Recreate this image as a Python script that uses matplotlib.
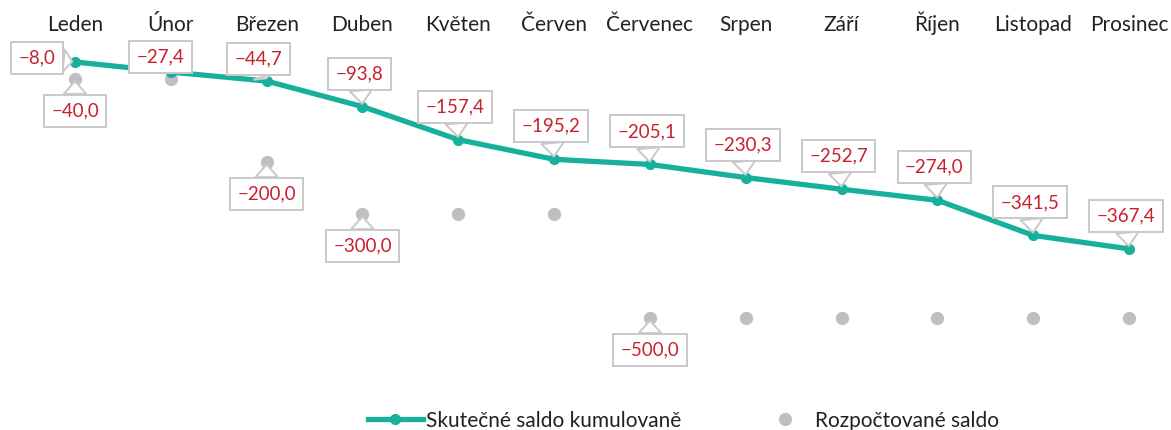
import matplotlib
matplotlib.use("Agg")
import matplotlib.pyplot as plt
from matplotlib.lines import Line2D

months = ["Leden", "Únor", "Březen", "Duben", "Květen", "Červen", "Červenec",
          "Srpen", "Září", "Říjen", "Listopad", "Prosinec"]
actual = [-8.0, -27.4, -44.7, -93.8, -157.4, -195.2, -205.1, -230.3, -252.7, -274.0, -341.5, -367.4]
budget = [-40.0, -40.0, -200.0, -300.0, -300.0, -300.0, -500.0, -500.0, -500.0, -500.0, -500.0, -500.0]
# budget labels shown only where the value changes
budget_label_idx = [0, 2, 3, 6]

series_names = ["Skutečné saldo kumulovaně", "Rozpočtované saldo"]

# label offsets (pixels) for the actual series
actual_offsets = [(-38, 4), (-10, 15), (-8, 22)] + [(-3, 33)] * 9
budget_offset = (0, -32)

TEAL = "#16B09B"
GRAY = "#BEBEC3"
RED = "#C8202D"
BOX = "#C9C9C9"

plt.rcParams["font.family"] = ["Lato", "DejaVu Sans"]

fig = plt.figure(figsize=(11.71, 4.30), dpi=100)
ax = fig.add_axes([0, 1 - 380 / 430, 1, (380 - 42) / 430])
x = list(range(len(months)))

ax.plot(x, actual, color=TEAL, lw=3.8, marker="o", ms=7, solid_capstyle="round", zorder=3)
ax.plot(x, budget, ls="none", marker="o", ms=8.5, color=GRAY, zorder=2)

ax.set_xlim(-0.783, 11.438)
ax.set_ylim(-619.6, 30.4)

ax.xaxis.tick_top()
ax.set_xticks(x)
ax.set_xticklabels(months, fontsize=15, color="#222222")
ax.tick_params(axis="x", length=0, pad=5)
ax.set_yticks([])
for s in ax.spines.values():
    s.set_visible(False)

def callout(xv, yv, text, off):
    ax.annotate(text, xy=(xv, yv), xytext=off, textcoords="offset pixels",
                ha="center", va="center", fontsize=13.5, color=RED, zorder=5,
                bbox=dict(boxstyle="square,pad=0.4", fc="white", ec=BOX, lw=1.4),
                arrowprops=dict(arrowstyle="wedge,tail_width=1.2,shrink_factor=0.5",
                                fc="white", ec=BOX, lw=1.4, shrinkA=0, shrinkB=2))

def fmt(v):
    return ("\u2212" + f"{abs(v):.1f}").replace(".", ",")

for i, v in enumerate(actual):
    callout(i, v, fmt(v), actual_offsets[i])
for i in budget_label_idx:
    callout(i, budget[i], fmt(budget[i]), budget_offset)

handles = [Line2D([], [], color=TEAL, lw=3.8, marker="o", ms=7),
           Line2D([], [], ls="none", marker="o", ms=8.5, color=GRAY)]
fig.legend(handles, series_names, loc="center", bbox_to_anchor=(0.584, 0.022),
           ncol=2, frameon=False, fontsize=15, handlelength=2.6,
           handletextpad=0.15, columnspacing=3.7, labelcolor="#222222")

fig.savefig("out.png", dpi=100)
